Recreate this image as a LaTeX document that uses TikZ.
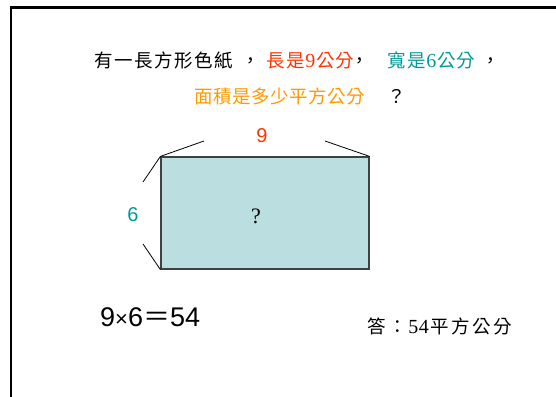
\documentclass[tikz,border=0pt]{standalone}
\usepackage{fontspec}
\setmainfont{Liberation Serif}
\newfontfamily\cjk{Noto Sans CJK TC}
\newfontfamily\arial{Liberation Sans}
\definecolor{myred}{HTML}{FF3300}
\definecolor{myteal}{HTML}{009999}
\definecolor{myorange}{HTML}{FF9900}
\definecolor{myfill}{HTML}{BBDEE0}
\newcommand\cb[2][19.5pt]{\makebox[#1]{#2}}
\newcommand\dg[1]{{\fontsize{20}{20}\selectfont\rmfamily\makebox[10.5pt]{#1}}}
\begin{document}
\begin{tikzpicture}[x=1pt,y=-1pt,
  ttl/.style={inner sep=0pt, anchor=base west, font=\fontsize{18.5}{18.5}\selectfont\cjk},
  lbl/.style={inner sep=0pt, font=\fontsize{20}{20}\selectfont\arial},
  brace/.style={draw=black, line width=0.8pt}]
\useasboundingbox (0,0) rectangle (556,396);
% frame
\draw[line width=2.5pt] (11,397) -- (11,7.5) -- (557,7.5);
% title line 1
\node[ttl] (a1) at (94,67) {\cb[20pt]{有}\cb[20pt]{一}\cb[20pt]{長}\cb[20pt]{方}\cb[20pt]{形}\cb[20pt]{色}\cb[20pt]{紙}};
\node[ttl] (a2) at (241,67) {\cb{，}};
\node[ttl, myred] (a3) at (266,67) {\cb{長}\cb{是}\dg{9}\cb{公}\cb{分}};
\node[ttl] (a4) at (350,67) {\cb{，}};
\node[ttl, myteal] (a5) at (387,67) {\cb{寬}\cb{是}\dg{6}\cb{公}\cb{分}};
\node[ttl] (a6) at (481,67) {\cb{，}};
% title line 2
\node[ttl, myorange] (b1) at (193.5,103.5) {\cb[19.1pt]{面}\cb[19.1pt]{積}\cb[19.1pt]{是}\cb[19.1pt]{多}\cb[19.1pt]{少}\cb[19.1pt]{平}\cb[19.1pt]{方}\cb[19.1pt]{公}\cb[19.1pt]{分}};
\node[ttl] (b2) at (386.5,103.5) {\cb{？}};
% rectangle
\node[draw=black!75, line width=1.2pt, fill=myfill, minimum width=208pt, minimum height=112pt, inner sep=0pt] (r) at (265,213) {};
\node[inner sep=0pt, font=\fontsize{22}{22}\selectfont\rmfamily] (q) at (256,216) {?};
% dimension marks
\coordinate (t1) at (204,141);
\coordinate (t2) at (325,141);
\coordinate (l1) at (143,182);
\coordinate (l2) at (143,244);
\draw[brace] (r.north west) -- (t1);
\draw[brace] (t2) -- (r.north east);
\draw[brace] (r.north west) -- (l1);
\draw[brace] (l2) -- (r.south west);
\node[lbl, myred] (n9) at (262,136) {9};
\node[lbl, myteal] (n6) at (133,215) {6};
% calculation
\node[inner sep=0pt, anchor=base west, font=\fontsize{27}{27}\selectfont\arial] (calc) at (100,326) {9{\fontsize{22}{22}\selectfont×}6{\cjk ＝}54};
% answer
\node[ttl] (ans) at (366,333) {\cb[21pt]{答}\cb[21pt]{：}\dg{5}\dg{4}\cb[21pt]{平}\cb[21pt]{方}\cb[21pt]{公}\cb[21pt]{分}};
\end{tikzpicture}
\end{document}
